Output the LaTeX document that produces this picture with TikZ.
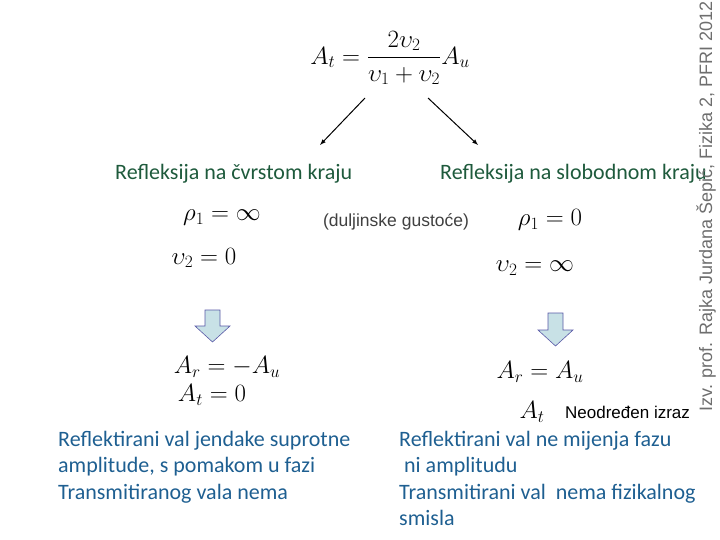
\documentclass[tikz,border=0pt]{standalone}
\usepackage{amsmath}
\usepackage{fontspec}
\setmainfont{Carlito}
\newfontfamily\arial{Liberation Sans}
\definecolor{hgreen}{RGB}{30,90,60}
\definecolor{tblue}{RGB}{30,95,145}
\definecolor{barrow}{RGB}{200,225,230}
\definecolor{gtext}{RGB}{110,110,110}
\tikzset{
 heading/.style={text=hgreen,font=\fontsize{22}{24}\selectfont,inner sep=0pt},
 body/.style={text=tblue,font=\fontsize{22}{26.5}\selectfont,align=left,inner sep=0pt},
 eq/.style={font=\fontsize{24}{28}\selectfont,inner sep=0pt},
 bigeq/.style={font=\fontsize{25}{29}\selectfont,inner sep=0pt},
 blockarrow/.style={draw=gray!70!blue,fill=barrow,line width=0.6pt},
 conn/.style={-latex,line width=1pt}
}
\begin{document}
\begin{tikzpicture}[x=1pt,y=-1pt]
\useasboundingbox (0,0) rectangle (720,540);
\node[bigeq] (f) at (390,58) {$A_t=\dfrac{2\upsilon_2}{\upsilon_1+\upsilon_2}A_u$};
\coordinate (fl) at (365,98); \coordinate (fr) at (428,98);
\node[heading,anchor=west] (hl) at (115,174) {Refleksija na čvrstom kraju};
\node[heading,anchor=west] (hr) at (440,174) {Refleksija na slobodnom kraju};
\draw[conn] (fl) -- (320,145);
\draw[conn] (fr) -- (478,145);
\node[eq] (rl) at (222,218) {$\rho_1=\infty$};
\node[eq] (vl) at (204,258) {$\upsilon_2=0$};
\node[font=\arial\fontsize{17.5}{20}\selectfont,text=black!75,inner sep=0pt] (dg) at (396,222) {(duljinske gustoće)};
\node[eq] (rr) at (550,220) {$\rho_1=0$};
\node[eq] (vr) at (535,268) {$\upsilon_2=\infty$};
\draw[blockarrow] (205,310) -- (220,310) -- (220,326) -- (230,326) -- (212.5,342) -- (195,326) -- (205,326) -- cycle;
\draw[blockarrow] (548,313) -- (563,313) -- (563,330) -- (573,330) -- (555.5,346) -- (538,330) -- (548,330) -- cycle;
\node[eq] (el1) at (227,367) {$A_r=-A_u$};
\node[eq] (el2) at (212,395) {$A_t=0$};
\node[eq] (er1) at (540,372) {$A_r=A_u$};
\node[eq] (er2) at (532,412) {$A_t$};
\node[font=\arial\fontsize{17}{19}\selectfont,anchor=west,inner sep=0pt] (nd) at (565,412) {Neodređen izraz};
\node[body,anchor=north west] (tl) at (58,431) {Reflektirani val jendake suprotne\\amplitude, s pomakom u fazi\\Transmitiranog vala nema};
\node[body,anchor=north west] (tr) at (399,431) {Reflektirani val ne mijenja fazu\\\ ni amplitudu\\Transmitirani val\ \ nema fizikalnog\\smisla};
\node[font=\arial\fontsize{18}{20}\selectfont,text=gtext,rotate=90,anchor=east,inner sep=0pt] (v) at (706,1) {Izv. prof. Rajka Jurdana Šepić, Fizika 2, PFRI 2012};
\end{tikzpicture}
\end{document}
